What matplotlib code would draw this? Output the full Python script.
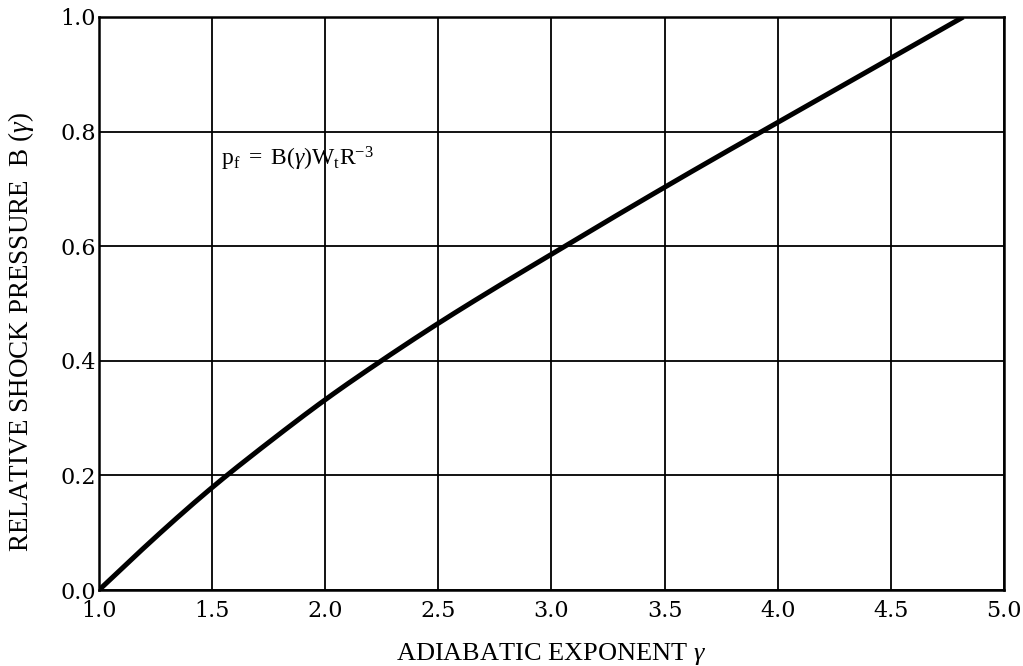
import numpy as np
import matplotlib
matplotlib.use('Agg')
import matplotlib.pyplot as plt

# values
gamma = [1.0, 1.25, 1.5, 1.75, 2.0, 2.25, 2.5, 2.75, 3.0, 3.25, 3.5, 3.75, 4.0, 4.25, 4.5, 4.82]
B = [0.0, 0.093, 0.18, 0.258, 0.333, 0.401, 0.466, 0.527, 0.586, 0.645, 0.703, 0.76, 0.816, 0.872, 0.928, 1.0]

x_ticks = [1.0, 1.5, 2.0, 2.5, 3.0, 3.5, 4.0, 4.5, 5.0]
y_ticks = [0.0, 0.2, 0.4, 0.6, 0.8, 1.0]

plt.rcParams['font.family'] = ['Liberation Serif', 'DejaVu Serif']
plt.rcParams['mathtext.fontset'] = 'custom'
plt.rcParams['mathtext.rm'] = 'Liberation Serif'
plt.rcParams['mathtext.it'] = 'Liberation Serif:italic'

fig = plt.figure(figsize=(10.23, 6.66), dpi=100)
ax = fig.add_axes([0.0968, 0.1141, 0.8846, 0.8604])

# smooth the read points a bit for drawing
xs = np.linspace(gamma[0], gamma[-1], 300)
ys = np.interp(xs, gamma, B)
k = 9
ys_s = np.convolve(np.pad(ys, k, mode='reflect', reflect_type='odd'), np.ones(2 * k + 1) / (2 * k + 1), mode='same')[k:-k]
ax.plot(xs, ys_s, color='black', lw=3.6, solid_capstyle='butt', zorder=3)

ax.set_xlim(1.0, 5.0)
ax.set_ylim(0.0, 1.0)
ax.set_xticks(x_ticks)
ax.set_yticks(y_ticks)
ax.set_xticklabels(['%.1f' % v for v in x_ticks], fontsize=16, family='DejaVu Serif')
ax.set_yticklabels(['%.1f' % v for v in y_ticks], fontsize=16, family='DejaVu Serif')
ax.tick_params(axis='x', length=0, pad=7)
ax.tick_params(axis='y', length=0, pad=2)
ax.grid(True, color='black', lw=1.3)
for s in ax.spines.values():
    s.set_linewidth(1.8)

ax.set_xlabel(r'ADIABATIC EXPONENT $\mathit{\gamma}$', fontsize=19, labelpad=14)
ax.set_ylabel(r'RELATIVE SHOCK PRESSURE  B ($\mathit{\gamma}$)', fontsize=19.5)
ax.yaxis.set_label_coords(-0.07, 0.45)

ax.text(1.54, 0.74, r'$\mathregular{p_f\ =\ B(}\mathit{\gamma}\mathregular{)W_tR^{-3}}$', fontsize=17)

fig.savefig('out.png', dpi=100)
